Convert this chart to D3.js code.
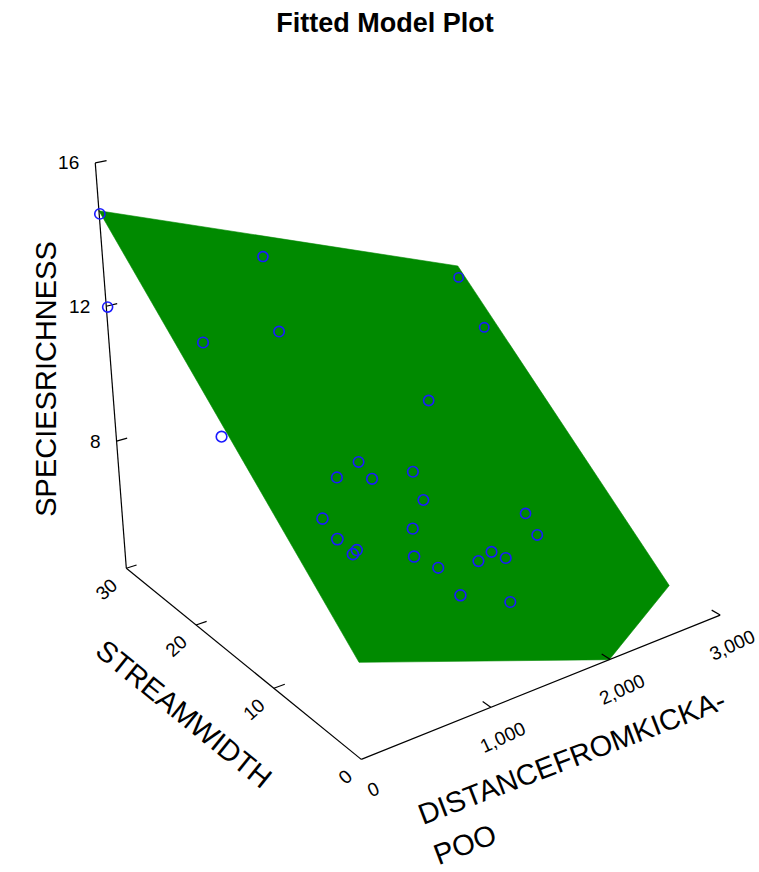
<!DOCTYPE html>
<html><head><meta charset="utf-8">
<script src="https://cdn.jsdelivr.net/npm/d3@7"></script>
<style>
  body { margin: 0; background: #fff; }
  svg { display: block; }
  text { font-family: Arial, "Liberation Sans", sans-serif; fill: #000; }
</style>
</head>
<body>
<svg id="chart" width="759" height="872"></svg>
<script>
// Observations: distance from the Kickapoo, stream width, species richness
const distance = [5, 1026, 2691, 0, 703, 2623, 200, 1511, 91, 888, 643, 815, 1089, 1200,
                  247, 904, 1937, 1803, 170, 450, 400, 691, 1412, 1266, 1435, 1002, 901, 1381];
const streamWidth = [30.0, 26.1, 25.8, 29.8, 19.1, 21.8, 20.4, 13.5, 16.7, 12.8, 11.7, 10.2, 9.5, 9.9,
                     7.4, 7.0, 8.3, 5.4, 4.6, 6.7, 6.4, 3.9, 5.3, 4.8, 4.1, 5.6, 1.9, 2.9];
const speciesRichness = [14.6, 13, 11, 12, 12, 10, 12, 10, 10, 9, 9, 9, 9, 8,
                         9, 8, 7, 7, 9, 8, 8, 8, 7, 7, 7, 7, 7, 6];

// Fitted regression plane: intercept, distance slope, width slope
const fitCoef = [6.711, -0.00136, 0.266];

// Axis ranges and tick labels
const distanceDomain = [0, 3000];
const widthDomain = [0, 30];
const richnessDomain = [4, 16];
const distanceTicks = [0, 1000, 2000, 3000];
const widthTicks = [0, 10, 20, 30];
const richnessTicks = [8, 12, 16];

const svg = d3.select("#chart");

// Data -> unit cube
const xS = d3.scaleLinear().domain(distanceDomain).range([0, 1]);
const yS = d3.scaleLinear().domain(widthDomain).range([0, 1]);
const zS = d3.scaleLinear().domain(richnessDomain).range([0, 1]);

// Perspective camera (homogeneous 3x4 matrix) from unit cube to screen
const M = [
  [451.622, -211.582, -46.5333, 361.277],
  [-65.1202, -85.9447, -497.056, 759.369],
  [0.128733, 0.185078, -0.102142, 1]
];
function project(x, y, z) {
  const w = M[2][0] * x + M[2][1] * y + M[2][2] * z + M[2][3];
  return [
    (M[0][0] * x + M[0][1] * y + M[0][2] * z + M[0][3]) / w,
    (M[1][0] * x + M[1][1] * y + M[1][2] * z + M[1][3]) / w,
    w
  ];
}
const line = d3.line();

// Title
svg.append("text")
  .attr("x", 385).attr("y", 32)
  .attr("text-anchor", "middle")
  .style("font-size", "27px").style("font-weight", "bold")
  .text("Fitted Model Plot");

// Regression plane over the data rectangle, clipped to the richness range
const planeZ = (x, y) => zS(fitCoef[0] + fitCoef[1] * xS.invert(x) + fitCoef[2] * yS.invert(y));
let poly = [[0, 0], [1, 0], [1, 1], [0, 1]].map(([x, y]) => [x, y, planeZ(x, y)]);
function clip(pts, inside, cut) {
  const out = [];
  pts.forEach((p, i) => {
    const q = pts[(i + 1) % pts.length];
    const pin = inside(p), qin = inside(q);
    if (pin) out.push(p);
    if (pin !== qin) out.push(cut(p, q));
  });
  return out;
}
const cutAt = level => (p, q) => {
  const t = (level - p[2]) / (q[2] - p[2]);
  return [p[0] + t * (q[0] - p[0]), p[1] + t * (q[1] - p[1]), level];
};
poly = clip(poly, p => p[2] >= 0, cutAt(0));
poly = clip(poly, p => p[2] <= 1, cutAt(1));

svg.append("path")
  .attr("d", line(poly.map(p => project(...p).slice(0, 2))) + "Z")
  .attr("fill", "#008a00")
  .attr("stroke", "#008a00").attr("stroke-width", 0.6);

// Axes
const axisG = svg.append("g").attr("fill", "none").attr("stroke", "#000").attr("stroke-width", 1.2);
const seg = (a, b) => axisG.append("path").attr("d", line([project(...a).slice(0, 2), project(...b).slice(0, 2)]));
seg([0, 0, 0], [1, 0, 0]);
seg([0, 0, 0], [0, 1, 0]);
seg([0, 1, 0], [0, 1, 1]);

const tickLen = 0.028;
const labelG = svg.append("g").style("font-size", "19px");

// Distance axis: ticks point along +width
distanceTicks.forEach(d => {
  const x = xS(d);
  if (d > 0) seg([x, 0, 0], [x, tickLen, 0]);
  const [px, py] = project(x, 0, 0);
  labelG.append("text")
    .attr("transform", `translate(${px + 12},${py + 30}) rotate(-25)`)
    .attr("text-anchor", "middle").attr("dominant-baseline", "central")
    .text(d3.format(",")(d));
});

// Stream width axis: ticks point along +distance
widthTicks.forEach(w => {
  const y = yS(w);
  if (w > 0) seg([0, y, 0], [tickLen, y, 0]);
  const [px, py] = project(0, y, 0);
  labelG.append("text")
    .attr("transform", `translate(${px - 12},${py + 14}) rotate(-42)`)
    .attr("text-anchor", "end").attr("dominant-baseline", "central")
    .text(w);
});

// Species richness axis: ticks point along +distance
richnessTicks.forEach(r => {
  const z = zS(r);
  seg([0, 1, z], [tickLen, 1, z]);
  const [px, py] = project(0, 1, z);
  labelG.append("text")
    .attr("x", px - 16).attr("y", py)
    .attr("text-anchor", "end").attr("dominant-baseline", "central")
    .text(r);
});

// Axis titles
const titleG = svg.append("g").style("font-size", "29px");
titleG.append("text")
  .attr("transform", "translate(46,379) rotate(-90)")
  .attr("text-anchor", "middle").attr("dominant-baseline", "central")
  .text("SPECIESRICHNESS");
titleG.append("text")
  .attr("transform", "translate(184,714) rotate(39)")
  .attr("text-anchor", "middle").attr("dominant-baseline", "central")
  .text("STREAMWIDTH");
const distTitle = titleG.append("text")
  .attr("transform", "translate(423,825) rotate(-21)");
distTitle.append("tspan").attr("x", 0).attr("y", 0).text("DISTANCEFROMKICKA-");
distTitle.append("tspan").attr("x", 0).attr("y", 43).text("POO");

// Observations as open circles, sized by depth
const points = distance.map((d, i) => project(xS(d), yS(streamWidth[i]), zS(speciesRichness[i])));
svg.append("g")
  .selectAll("circle")
  .data(points)
  .join("circle")
  .attr("cx", p => p[0])
  .attr("cy", p => p[1])
  .attr("r", p => 5.6 / p[2])
  .attr("fill", "none")
  .attr("stroke", "#1a1aff")
  .attr("stroke-width", 1.6);
</script>
</body></html>
